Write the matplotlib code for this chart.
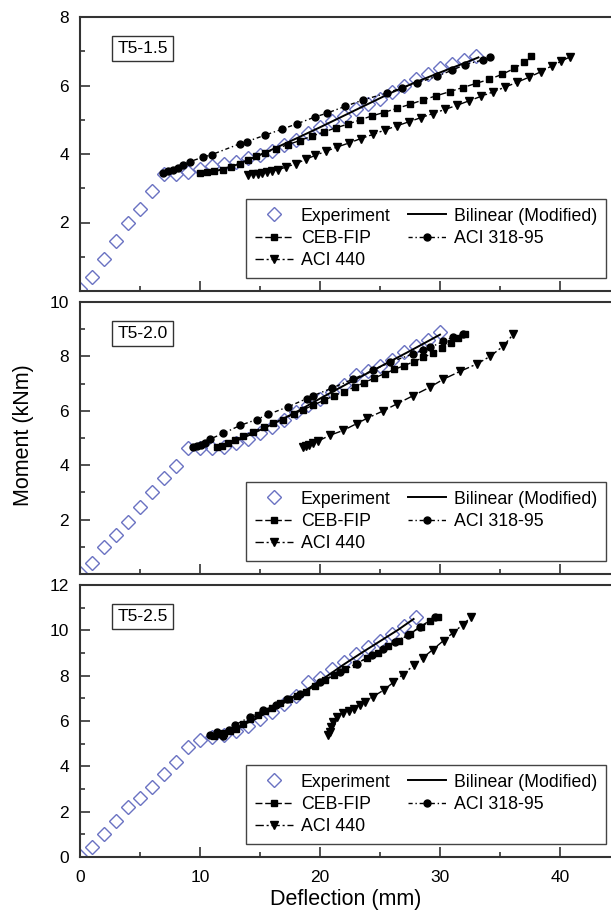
import matplotlib
matplotlib.use("Agg")
import matplotlib.pyplot as plt
from matplotlib.ticker import MultipleLocator

plt.rcParams['font.family'] = ['Liberation Sans', 'DejaVu Sans']

# --- T5-1.5 ---
exp1_x = [0, 1, 2, 3, 4, 5, 6, 7, 8, 9, 10, 11, 12, 13, 14, 15, 16, 17, 18, 19, 20,
          21, 22, 23, 24, 25, 26, 27, 28, 29, 30, 31, 32, 33]
exp1_y = [0.05, 0.4, 0.93, 1.47, 2.0, 2.4, 2.93, 3.42, 3.42, 3.47, 3.57, 3.64, 3.7, 3.78,
          3.88, 3.98, 4.1, 4.25, 4.42, 4.6, 4.78, 4.95, 5.12, 5.3, 5.45, 5.62, 5.82, 6.0,
          6.18, 6.35, 6.5, 6.62, 6.75, 6.87]
bil1_x = [10.2, 11.5, 13.0, 14.5, 16.0, 18.0, 20.0, 22.0, 24.0, 26.0, 28.0, 30.0, 32.0, 33.2]
bil1_y = [3.45, 3.52, 3.68, 3.9, 4.13, 4.45, 4.78, 5.12, 5.46, 5.8, 6.1, 6.38, 6.65, 6.82]
ceb1_x = [10.0, 10.6, 11.2, 11.9, 12.6, 13.3, 14.0, 14.7, 15.4, 16.3, 17.3, 18.3, 19.3, 20.3,
          21.3, 22.3, 23.3, 24.3, 25.3, 26.4, 27.5, 28.6, 29.7, 30.8, 31.9, 33.0, 34.1, 35.2,
          36.2, 37.0, 37.6]
ceb1_y = [3.44, 3.46, 3.49, 3.54, 3.62, 3.72, 3.83, 3.93, 4.03, 4.15, 4.27, 4.39, 4.52, 4.64,
          4.76, 4.87, 4.99, 5.11, 5.21, 5.33, 5.45, 5.58, 5.70, 5.82, 5.94, 6.06, 6.18, 6.33,
          6.50, 6.68, 6.85]
a318_1_x = [6.94, 7.36, 7.78, 8.19, 8.61, 9.17, 10.28, 10.97, 13.33, 13.89, 15.42, 16.81,
            18.06, 19.58, 20.56, 22.08, 23.61, 25.56, 26.8, 28.06, 29.72, 30.97, 32.08, 33.6, 34.2]
a318_1_y = [3.44, 3.49, 3.54, 3.59, 3.68, 3.78, 3.91, 3.98, 4.30, 4.36, 4.55, 4.72,
            4.88, 5.08, 5.19, 5.39, 5.58, 5.78, 5.93, 6.07, 6.27, 6.44, 6.61, 6.75, 6.83]
a440_1_x = [14.0, 14.4, 14.8, 15.2, 15.6, 16.0, 16.5, 17.2, 18.0, 18.8, 19.6, 20.5, 21.4, 22.4,
            23.4, 24.4, 25.4, 26.4, 27.4, 28.4, 29.4, 30.4, 31.4, 32.4, 33.4, 34.4, 35.4, 36.4,
            37.4, 38.4, 39.3, 40.1, 40.8]
a440_1_y = [3.39, 3.41, 3.43, 3.45, 3.47, 3.50, 3.54, 3.62, 3.72, 3.84, 3.96, 4.08, 4.20, 4.32,
            4.45, 4.57, 4.70, 4.82, 4.94, 5.06, 5.18, 5.30, 5.42, 5.55, 5.68, 5.81, 5.95, 6.09,
            6.24, 6.40, 6.57, 6.71, 6.83]

# --- T5-2.0 ---
exp2_x = [0, 1, 2, 3, 4, 5, 6, 7, 8, 9, 10, 11, 12, 13, 14, 15, 16, 17, 18, 19, 20,
          21, 22, 23, 24, 25, 26, 27, 28, 29, 30]
exp2_y = [0.05, 0.42, 1.0, 1.43, 1.92, 2.48, 3.0, 3.52, 3.98, 4.64, 4.64, 4.62, 4.66, 4.8,
          4.98, 5.2, 5.4, 5.68, 5.95, 6.2, 6.45, 6.7, 6.95, 7.3, 7.48, 7.65, 7.85, 8.15, 8.4,
          8.62, 8.88]
bil2_x = [11.25, 12.5, 14.17, 16.0, 18.0, 20.0, 22.5, 25.0, 27.5, 30.0]
bil2_y = [4.64, 4.8, 5.12, 5.5, 5.95, 6.45, 7.05, 7.62, 8.2, 8.8]
ceb2_x = [11.4, 11.8, 12.3, 12.9, 13.6, 14.4, 15.3, 16.1, 16.9, 17.8, 18.6, 19.4, 20.3, 21.2,
          22.0, 22.9, 23.7, 24.5, 25.4, 26.2, 27.0, 27.8, 28.6, 29.4, 30.2, 30.9, 31.5, 32.1]
ceb2_y = [4.68, 4.72, 4.8, 4.92, 5.07, 5.23, 5.4, 5.54, 5.68, 5.88, 6.04, 6.2, 6.38, 6.56,
          6.7, 6.88, 7.04, 7.2, 7.37, 7.52, 7.66, 7.8, 7.96, 8.12, 8.3, 8.5, 8.68, 8.81]
a318_2_x = [9.44, 9.75, 10.05, 10.4, 10.83, 11.94, 13.33, 14.72, 15.69, 17.36, 18.9, 19.4,
            20.97, 22.78, 24.44, 25.83, 27.78, 28.6, 29.17, 30.28, 31.1, 31.94]
a318_2_y = [4.68, 4.72, 4.76, 4.82, 4.96, 5.17, 5.46, 5.68, 5.87, 6.15, 6.45, 6.55,
            6.83, 7.17, 7.5, 7.78, 8.1, 8.22, 8.33, 8.55, 8.72, 8.81]
a440_2_x = [18.6, 18.85, 19.1, 19.4, 19.8, 20.83, 21.94, 23.06, 23.9, 25.28, 26.39, 27.78,
            29.17, 30.28, 31.67, 33.06, 34.17, 35.28, 36.1]
a440_2_y = [4.68, 4.72, 4.76, 4.8, 4.88, 5.1, 5.28, 5.53, 5.72, 6.0, 6.25, 6.56,
            6.87, 7.16, 7.45, 7.72, 8.0, 8.38, 8.81]

# --- T5-2.5 ---
exp3_x = [0, 1, 2, 3, 4, 5, 6, 7, 8, 9, 10, 11, 12, 13, 14, 15, 16, 17, 18, 19, 20,
          21, 22, 23, 24, 25, 26, 27, 28]
exp3_y = [0.05, 0.43, 1.0, 1.58, 2.22, 2.6, 3.07, 3.66, 4.2, 4.86, 5.18, 5.3, 5.4, 5.55,
          5.8, 6.1, 6.4, 6.75, 7.1, 7.72, 7.9, 8.3, 8.6, 8.95, 9.25, 9.55, 9.85, 10.2, 10.6]
bil3_x = [11.67, 13.0, 14.5, 16.0, 17.5, 19.0, 20.5, 22.0, 23.5, 25.0, 26.5, 27.8]
bil3_y = [5.45, 5.7, 6.05, 6.5, 6.95, 7.42, 7.95, 8.5, 9.02, 9.52, 10.02, 10.5]
ceb3_x = [11.2, 11.6, 12.0, 12.5, 13.0, 13.6, 14.2, 14.8, 15.4, 16.0, 16.7, 17.4, 18.1, 18.8,
          19.6, 20.4, 21.2, 22.1, 23.0, 23.9, 24.8, 25.7, 26.6, 27.5, 28.4, 29.2, 29.8]
ceb3_y = [5.35, 5.42, 5.48, 5.56, 5.66, 5.85, 6.1, 6.28, 6.45, 6.58, 6.8, 6.98, 7.12, 7.3,
          7.55, 7.8, 8.02, 8.28, 8.52, 8.78, 9.02, 9.3, 9.55, 9.85, 10.15, 10.42, 10.6]
a318_3_x = [10.83, 11.4, 11.9, 12.4, 12.9, 14.17, 15.28, 16.3, 17.22, 18.33, 20.0, 21.67,
            23.06, 24.3, 25.28, 26.25, 27.36, 28.33, 29.6]
a318_3_y = [5.37, 5.5, 5.35, 5.6, 5.82, 6.18, 6.47, 6.7, 6.99, 7.21, 7.72, 8.17,
            8.53, 8.9, 9.19, 9.5, 9.8, 10.15, 10.59]
a440_3_x = [20.7, 20.8, 20.9, 21.1, 21.4, 21.9, 22.4, 22.8, 23.3, 23.75, 24.4, 25.3, 26.1,
            26.9, 27.8, 28.6, 29.4, 30.3, 31.1, 31.9, 32.6]
a440_3_y = [5.37, 5.5, 5.73, 5.96, 6.19, 6.34, 6.45, 6.55, 6.7, 6.85, 7.07, 7.36, 7.7,
            8.05, 8.45, 8.8, 9.15, 9.55, 9.9, 10.25, 10.59]

naslovi = ["T5-1.5", "T5-2.0", "T5-2.5"]
y_max = [8, 10, 12]

PLAVA = '#6a72c2'
SIVA = '#333333'


def nacrtaj_panel(ax, exp, bil, ceb, a318, a440, naslov, ymax, zadnji):
    h_exp, = ax.plot(exp[0], exp[1], ls='none', marker='D', ms=7.3, mfc='none',
                     mec=PLAVA, mew=1.0, label='Experiment')
    h_bil, = ax.plot(bil[0], bil[1], '-', color='k', lw=1.4, label='Bilinear (Modified)')
    h_ceb, = ax.plot(ceb[0], ceb[1], ls=(0, (5, 2)), marker='s', ms=4.5, color='k', lw=1.0,
                     label='CEB-FIP')
    h_318, = ax.plot(a318[0], a318[1], ls=(0, (3, 2, 1, 2)), marker='o', ms=5, color='k',
                     lw=1.0, label='ACI 318-95')
    h_440, = ax.plot(a440[0], a440[1], ls=(0, (6, 2, 1.5, 2)), marker='v', ms=5.5, color='k',
                     lw=1.0, label='ACI 440')

    ax.set_xlim(0, 44.25)
    ax.set_ylim(0, ymax)
    ax.xaxis.set_major_locator(MultipleLocator(10))
    ax.xaxis.set_minor_locator(MultipleLocator(5))
    if zadnji:
        ax.set_yticks(range(0, ymax + 1, 2))
    else:
        ax.set_yticks(range(2, ymax + 1, 2))
    ax.yaxis.set_minor_locator(MultipleLocator(1))
    ax.tick_params(which='both', direction='in', width=1.2, color=SIVA,
                   labelsize=12.5, top=False, right=False)
    ax.tick_params(which='major', length=7)
    ax.tick_params(which='minor', length=3.5)
    ax.tick_params(axis='y', pad=8)
    ax.tick_params(axis='x', pad=9)
    if not zadnji:
        ax.tick_params(axis='x', labelbottom=False)

    for s in ['left', 'bottom', 'top']:
        ax.spines[s].set_linewidth(1.5)
        ax.spines[s].set_color(SIVA)
    ax.spines['right'].set_visible(False)

    ax.text(0.07, 0.885, naslov, transform=ax.transAxes, fontsize=12.5, ha='left', va='center',
            bbox=dict(boxstyle='square,pad=0.3', fc='white', ec=SIVA, lw=1.0))

    leg = ax.legend(handles=[h_exp, h_ceb, h_440, h_bil, h_318], ncol=2, loc='lower right',
                    bbox_to_anchor=(0.99, 0.047), borderaxespad=0, fontsize=12.8,
                    frameon=True, fancybox=False, framealpha=1, edgecolor='#444444',
                    handlelength=2.1, handletextpad=0.45, columnspacing=1.0,
                    labelspacing=0.3, borderpad=0.5, numpoints=1)
    leg.get_frame().set_linewidth(1.0)


fig = plt.figure(figsize=(6.11, 9.17), dpi=100)
lijevo = 80 / 611
sirina = 1 - lijevo
# gornji i donji rub svakog panela u pikselima
okviri = [(17, 291), (302, 574), (585, 857)]
podaci = [
    ((exp1_x, exp1_y), (bil1_x, bil1_y), (ceb1_x, ceb1_y), (a318_1_x, a318_1_y), (a440_1_x, a440_1_y)),
    ((exp2_x, exp2_y), (bil2_x, bil2_y), (ceb2_x, ceb2_y), (a318_2_x, a318_2_y), (a440_2_x, a440_2_y)),
    ((exp3_x, exp3_y), (bil3_x, bil3_y), (ceb3_x, ceb3_y), (a318_3_x, a318_3_y), (a440_3_x, a440_3_y)),
]

osi = []
for i, (gore, dolje) in enumerate(okviri):
    ax = fig.add_axes([lijevo, 1 - dolje / 917, sirina, (dolje - gore) / 917])
    nacrtaj_panel(ax, *podaci[i], naslovi[i], y_max[i], zadnji=(i == 2))
    osi.append(ax)

osi[2].set_xlabel("Deflection (mm)", fontsize=15.5, labelpad=3)
fig.text(0.038, 0.526, "Moment (kNm)", rotation=90, fontsize=15.5, ha='center', va='center')

fig.savefig("out.png", dpi=100)
